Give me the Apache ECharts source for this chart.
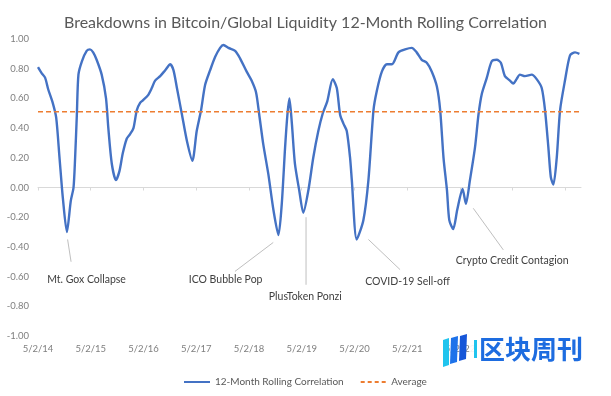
<!DOCTYPE html>
<html>
<head>
<meta charset="utf-8">
<script src="https://cdn.jsdelivr.net/npm/echarts@6/dist/echarts.min.js"></script>
<style>
html,body{margin:0;padding:0;background:#fff;}
#chart{width:611px;height:396px;}
</style>
</head>
<body>
<div id="chart"></div>
<script>
// ---- data ----
const dates = [
'2014-05-02','2014-05-27','2014-06-20','2014-07-12','2014-08-12','2014-09-05','2014-09-28','2014-10-21','2014-11-18','2014-12-15',
'2015-01-03','2015-01-14','2015-01-26','2015-02-06','2015-03-02','2015-04-04','2015-04-27','2015-05-19','2015-06-12','2015-07-17',
'2015-08-16','2015-09-01','2015-09-25','2015-10-24','2015-11-17','2015-12-10','2016-01-07','2016-01-30','2016-02-22','2016-03-16',
'2016-04-08','2016-05-01','2016-06-01','2016-06-28','2016-07-21','2016-08-25','2016-09-29','2016-11-03','2016-11-25','2016-12-19',
'2017-01-23','2017-02-27','2017-04-05','2017-05-05','2017-06-04','2017-07-02','2017-08-06','2017-09-10','2017-10-14','2017-11-06',
'2017-12-11','2018-01-26','2018-03-01','2018-04-16','2018-05-20','2018-06-20','2018-07-12','2018-08-09','2018-09-13','2018-10-18',
'2018-11-22','2018-12-15','2019-01-07','2019-01-23','2019-02-06','2019-02-23','2019-03-16','2019-04-15','2019-05-13','2019-06-17',
'2019-07-21','2019-08-25','2019-09-25','2019-10-26','2019-12-03','2019-12-31','2020-01-23','2020-02-15','2020-03-09','2020-04-01',
'2020-04-13','2020-05-17','2020-07-02','2020-08-06','2020-09-10','2020-10-03','2020-11-07','2020-12-12','2021-01-16','2021-03-02',
'2021-04-17','2021-06-02','2021-07-06','2021-08-10','2021-09-14','2021-10-19','2021-11-23','2021-12-16','2022-01-08','2022-02-01',
'2022-02-17','2022-03-16','2022-04-13','2022-05-20','2022-06-12','2022-07-10','2022-08-14','2022-09-07','2022-09-30','2022-11-04',
'2022-12-08','2023-01-12','2023-02-09','2023-03-09','2023-04-13','2023-05-06','2023-05-29','2023-06-21','2023-07-26','2023-09-11',
'2023-10-15','2023-11-19','2023-12-12','2024-01-04','2024-01-21','2024-02-08','2024-03-02','2024-03-25','2024-04-28','2024-06-02',
'2024-07-07','2024-08-06'
];
const correlation = [
0.81,0.77,0.74,0.66,0.57,0.47,0.20,-0.07,-0.30,-0.09,
0.00,0.20,0.49,0.76,0.85,0.92,0.93,0.91,0.86,0.76,
0.60,0.40,0.16,0.05,0.11,0.23,0.33,0.36,0.40,0.52,
0.57,0.59,0.62,0.67,0.72,0.75,0.79,0.83,0.79,0.67,
0.49,0.31,0.18,0.38,0.52,0.69,0.79,0.88,0.94,0.96,
0.94,0.92,0.87,0.78,0.72,0.64,0.49,0.29,0.09,-0.15,
-0.32,-0.11,0.27,0.49,0.60,0.43,0.16,-0.02,-0.17,-0.02,
0.20,0.38,0.50,0.58,0.73,0.67,0.49,0.43,0.38,0.20,
0.05,-0.35,-0.22,0.05,0.52,0.65,0.78,0.83,0.83,0.91,
0.93,0.94,0.91,0.86,0.84,0.78,0.68,0.52,0.20,-0.02,
-0.22,-0.28,-0.15,-0.01,-0.11,0.05,0.27,0.49,0.63,0.74,
0.85,0.86,0.84,0.75,0.72,0.70,0.73,0.76,0.75,0.76,
0.73,0.67,0.52,0.27,0.07,0.02,0.20,0.52,0.72,0.89,
0.91,0.90
];
const averageValue = 0.51;
const seriesNames = ['12-Month Rolling Correlation', 'Average'];
const xTickLabels = ['5/2/14','5/2/15','5/2/16','5/2/17','5/2/18','5/2/19','5/2/20','5/2/21','5/2/22','5/2/23','5/2/24'];
const annotationTexts = ['Mt. Gox Collapse','ICO Bubble Pop','PlusToken Ponzi','COVID-19 Sell-off','Crypto Credit Contagion'];
const titleText = 'Breakdowns in Bitcoin/Global Liquidity 12-Month Rolling Correlation';

// ---- layout (annotation anchors in data space) ----
const annotationLayout = [
  {from:['2014-11-23',-0.35], to:['2014-12-17',-0.50], label:['2015-04-03',-0.62]},
  {from:['2018-10-17',-0.37], to:['2018-01-25',-0.565], label:['2017-11-21',-0.62]},
  {from:['2019-06-01',-0.20], to:['2019-06-01',-0.655], label:['2019-05-27',-0.733]},
  {from:['2020-08-06',-0.35], to:['2021-03-13',-0.553], label:['2021-05-04',-0.632]},
  {from:['2022-08-02',-0.14], to:['2023-02-26',-0.42], label:['2023-04-28',-0.491]}
];

function toTs(s){
  const p = s.split('-').map(Number);
  return new Date(p[0], p[1]-1, p[2]).getTime();
}
function tickLabelToTs(lbl){
  const p = lbl.split('/').map(Number);
  return new Date(2000 + p[2], p[0]-1, p[1]).getTime();
}
const tickValues = xTickLabels.map(tickLabelToTs);

const FONT = 'Lato';
const SOLID_ICON = 'path://M0,0h26v2h-26z';
const DASH_ICON = 'path://M0,0h4v2h-4zM7,0h4v2h-4zM14,0h4v2h-4zM21,0h4v2h-4z';
const chart = echarts.init(document.getElementById('chart'), null, {renderer:'canvas'});

chart.setOption({
  backgroundColor:'#ffffff',
  animation:false,
  title:{
    text:titleText, left:'center', top:10,
    textStyle:{fontFamily:FONT, fontSize:16, fontWeight:'normal', color:'#595959'}
  },
  legend:{
    left:179, top:372, itemWidth:26, itemHeight:2, itemGap:17,
    data:[{name:seriesNames[0], icon:SOLID_ICON},{name:seriesNames[1], icon:DASH_ICON}],
    textStyle:{fontFamily:FONT, fontSize:10, color:'#595959'}
  },
  grid:{left:38, right:30, top:39, bottom:60, containLabel:false},
  xAxis:{
    type:'value',
    min:toTs(dates[0]), max:toTs('2024-08-17'),
    axisLine:{show:true, lineStyle:{color:'#d9d9d9', width:1}},
    axisTick:{show:true, length:3, customValues:tickValues, lineStyle:{color:'#d9d9d9'}},
    splitLine:{show:false},
    axisLabel:{
      customValues:tickValues,
      fontFamily:FONT, fontSize:9.5, color:'#7f7f7f', margin:8,
      formatter:function(v){
        let best = 0, d = Infinity;
        tickValues.forEach((t,i)=>{ const dd=Math.abs(t-v); if(dd<d){d=dd;best=i;} });
        return xTickLabels[best];
      }
    }
  },
  yAxis:{
    type:'value', min:-1, max:1, interval:0.2,
    axisLine:{show:false}, axisTick:{show:false}, splitLine:{show:false},
    axisLabel:{
      fontFamily:FONT, fontSize:9.5, color:'#7f7f7f', margin:9,
      formatter:function(v){ const r = Math.round(v*100)/100; return (r===0?0:r).toFixed(2); }
    }
  },
  series:[
    {
      name:seriesNames[0], type:'line', symbol:'none', smooth:0.25,
      data:dates.map((d,i)=>[toTs(d), correlation[i]]),
      lineStyle:{color:'#4472C4', width:2.4},
      itemStyle:{color:'#4472C4'},
      z:3
    },
    {
      name:seriesNames[1], type:'line', symbol:'none',
      data:[[toTs(dates[0]), averageValue],[toTs(dates[dates.length-1]), averageValue]],
      lineStyle:{color:'#ED7D31', width:1.6, type:[5,3]},
      itemStyle:{color:'#ED7D31'},
      z:4
    }
  ]
});

// annotations + watermark
const g = [];
annotationLayout.forEach((a,i)=>{
  const p1 = chart.convertToPixel({gridIndex:0}, [toTs(a.from[0]), a.from[1]]);
  const p2 = chart.convertToPixel({gridIndex:0}, [toTs(a.to[0]), a.to[1]]);
  const pl = chart.convertToPixel({gridIndex:0}, [toTs(a.label[0]), a.label[1]]);
  g.push({type:'line', shape:{x1:p1[0],y1:p1[1],x2:p2[0],y2:p2[1]}, style:{stroke:'#bfbfbf', lineWidth:1}, z:10});
  g.push({type:'text', x:pl[0], y:pl[1], style:{text:annotationTexts[i], fill:'#404040', font:'10.5px '+FONT, align:'center', verticalAlign:'middle'}, z:10});
});
// watermark overlay
g.push({type:'rect', shape:{x:470,y:340,width:122,height:23}, style:{fill:'rgba(255,255,255,0.9)'}, z:20});
g.push({type:'polygon', shape:{points:[[443,340],[449,338],[449,365],[443,367]]}, style:{fill:'#20c4ee'}, z:21});
g.push({type:'polygon', shape:{points:[[451,338],[458,336],[457,362],[450,364]]}, style:{fill:'#1d72ea'}, z:21});
g.push({type:'polygon', shape:{points:[[460,336],[467,334],[466,359],[459,361]]}, style:{fill:'#1656d8'}, z:21});
g.push({type:'rect', shape:{x:474,y:340,width:3,height:18}, style:{fill:'#20c4ee'}, z:21});
g.push({type:'text', x:479, y:349, style:{text:'区块周刊', fill:'#1d6ce0', font:'bold 26px "Noto Sans CJK SC"', verticalAlign:'middle'}, z:21});
chart.setOption({graphic:g});
</script>
</body>
</html>
